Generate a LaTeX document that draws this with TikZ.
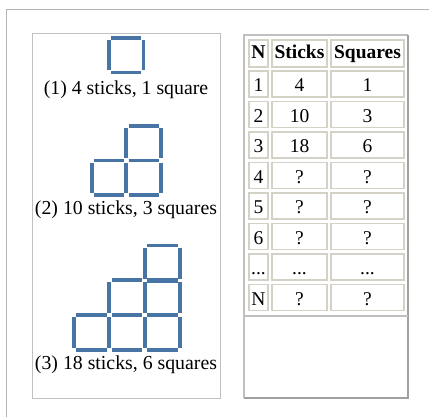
\documentclass[tikz,border=0pt]{standalone}
\usepackage{fontspec}
\setmainfont{Liberation Serif}
\definecolor{stickblue}{RGB}{72,116,166}
\definecolor{framegray}{RGB}{180,180,180}
\definecolor{boxgray}{RGB}{192,192,192}
\definecolor{shadegray}{RGB}{160,160,160}
\definecolor{celledge}{RGB}{212,209,198}
\newcommand{\tdots}{...}
% one square of four sticks: top-left x, top-left y, side
\newcommand{\matchsq}[3]{%
    \draw[stick] ({#1+2.2},#2) -- ({#1+#3-2.2},#2);
    \draw[stick] ({#1+2.2},{#2+#3}) -- ({#1+#3-2.2},{#2+#3});
    \draw[stick] (#1,{#2+2.2}) -- (#1,{#2+#3-2.2});
    \draw[stick] ({#1+#3},{#2+2.2}) -- ({#1+#3},{#2+#3-2.2});
}
\begin{document}
\begin{tikzpicture}[
        x=1pt, y=-1pt,
        stick/.style={draw=stickblue, line width=3.8pt},
        caption/.style={font=\fontsize{19.8}{22}\selectfont, anchor=base, inner sep=0pt},
        cell/.style={draw=celledge, line width=1.2pt, minimum height=26pt, inner sep=0pt,
            text height=17pt, text depth=1.6pt, font=\fontsize{19.5}{21}\selectfont},
        head/.style={cell, minimum height=27pt, text height=10pt, text depth=0pt,
            font=\fontsize{19.5}{21}\selectfont\bfseries}
    ]
    \useasboundingbox (0,0) rectangle (429,417);
    \draw[framegray, line width=1pt] (6,417) -- (6,10) -- (429,10);

    % left panel with the figures
    \draw[boxgray, line width=1pt] (32,34) rectangle (220,398);
    \matchsq{109}{38}{34.5}
    \node[caption] (cap1) at (126,95) {(1) 4 sticks, 1 square};
    \foreach \x/\y in {91.8/160.5, 126.3/160.5, 126.3/126}
        \matchsq{\x}{\y}{34.5};
    \node[caption] (cap2) at (126,215) {(2) 10 sticks, 3 squares};
    \foreach \x/\y in {74/314.9, 109.3/314.9, 144.6/314.9, 109.3/280.2, 144.6/280.2, 144.6/245.5}
        \matchsq{\x}{\y}{35.3};
    \node[caption] (cap3) at (126,370) {(3) 18 sticks, 6 squares};

    % right panel with the table
    \draw[boxgray, line width=1.5pt] (244,398) -- (244,35) -- (408,35);
    \draw[shadegray, line width=1.2pt] (408,35) -- (408,398) -- (244,398);
    \draw[boxgray, line width=1.5pt] (245,316) -- (408,316);
    \foreach \cx/\cw/\txt [count=\c] in {258.5/19/N, 299.5/55/Sticks, 367.5/73/Squares}
        \node[head, minimum width=\cw pt] (h\c) at (\cx,53.5) {\txt};
    \foreach \n/\st/\sq [count=\r] in {1/4/1, 2/10/3, 3/18/6, 4/?/?, 5/?/?, 6/?/?, \tdots/\tdots/\tdots, N/?/?} {
        \node[cell, minimum width=19pt] (n\r) at (258.5,{84+(\r-1)*30.5}) {\n};
        \node[cell, minimum width=55pt] (st\r) at (299.5,{84+(\r-1)*30.5}) {\st};
        \node[cell, minimum width=73pt] (sq\r) at (367.5,{84+(\r-1)*30.5}) {\sq};
    }
\end{tikzpicture}
\end{document}
